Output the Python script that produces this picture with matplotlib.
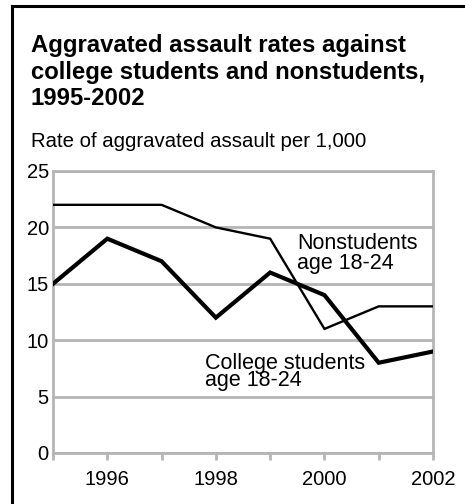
import matplotlib.pyplot as plt
from matplotlib.lines import Line2D

plt.rcParams["font.family"] = ["Liberation Sans", "DejaVu Sans"]

years = [1995, 1996, 1997, 1998, 1999, 2000, 2001, 2002]
nonstudents = [22, 22, 22, 20, 19, 11, 13, 13]
college = [15, 19, 17, 12, 16, 14, 8, 9]
x_tick_labels = ["1996", "1998", "2000", "2002"]
y_ticks = [0, 5, 10, 15, 20, 25]

GRID = "#b5b5b5"

fig = plt.figure(figsize=(4.65, 5.04), dpi=100)

# Frame around the graphic (open on right and bottom, as cropped)
fig.add_artist(Line2D([12 / 465, 12 / 465], [0, 1 - 6 / 504], color="black", lw=2.2))
fig.add_artist(Line2D([12 / 465, 1], [1 - 6 / 504, 1 - 6 / 504], color="black", lw=2.2))

fig.text(31 / 465, 1 - 34 / 504,
         "Aggravated assault rates against\ncollege students and nonstudents,\n1995-2002",
         fontsize=17.2, fontweight="bold", va="top", ha="left", linespacing=1.2)
fig.text(31 / 465, 1 - 147 / 504, "Rate of aggravated assault per 1,000",
         fontsize=14.7, va="baseline", ha="left")

ax = fig.add_axes([53 / 465, 51 / 504, 380 / 465, 282 / 504])

ax.plot(years, nonstudents, color="black", lw=1.7, solid_joinstyle="miter", zorder=3)
ax.plot(years, college, color="black", lw=3, solid_joinstyle="miter", zorder=3)

ax.set_xlim(1995, 2002)
ax.set_ylim(0, 25)
ax.set_yticks(y_ticks)
ax.set_yticklabels([str(v) for v in y_ticks])
ax.set_xticks(years)
ax.set_xticklabels(["" if str(y) not in x_tick_labels else str(y) for y in years])

for s in ax.spines.values():
    s.set_color(GRID)
    s.set_linewidth(2)
ax.grid(axis="y", color=GRID, lw=2)
ax.set_axisbelow(True)
ax.tick_params(axis="y", length=0, pad=3, labelsize=14.5)
ax.tick_params(axis="x", length=5, width=2, color=GRID, pad=7, labelsize=14.5)

ax.text(1999.5, 19.5, "Nonstudents\nage 18-24", fontsize=15.5, va="top", ha="left",
        linespacing=0.95)
ax.text(1997.8, 8.9, "College students\nage 18-24", fontsize=15.5, va="top", ha="left",
        linespacing=0.8)

fig.savefig("out.png", dpi=100)
